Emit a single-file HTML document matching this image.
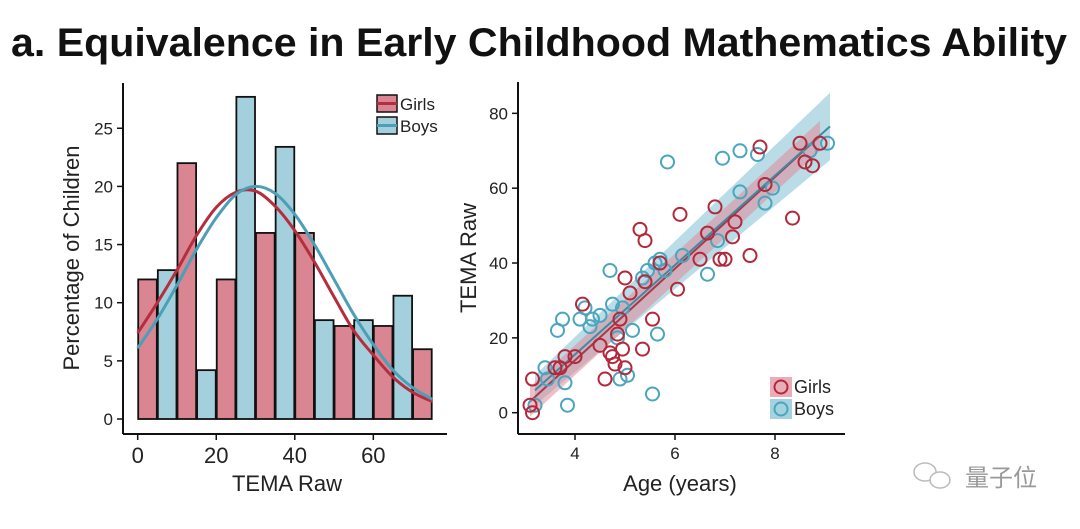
<!DOCTYPE html>
<html><head><meta charset="utf-8"><style>
body{margin:0;background:#fff;width:1080px;height:524px;overflow:hidden;font-family:"Liberation Sans",Arial,sans-serif}
</style></head><body>
<svg width="1080" height="524" xmlns="http://www.w3.org/2000/svg" font-family="Liberation Sans, Arial, sans-serif">
<text x="539" y="56" text-anchor="middle" font-size="40" font-weight="bold" fill="#111" textLength="1056" lengthAdjust="spacingAndGlyphs">a. Equivalence in Early Childhood Mathematics Ability</text>
<g id="hist"></g>
<g id="scat"></g>
<g>
<ellipse cx="925" cy="472" rx="11" ry="9" fill="none" stroke="#bbb" stroke-width="1.5"/>
<ellipse cx="940" cy="480" rx="10" ry="8" fill="#fff" stroke="#bbb" stroke-width="1.5"/>
<text x="965" y="486" font-size="24" fill="#999" font-family="Liberation Sans, Noto Sans CJK SC, sans-serif">量子位</text>
</g>
</svg>
<script>
const NS='http://www.w3.org/2000/svg';
// Histogram data
const binStarts=[0,5,10,15,20,25,30,35,40,45,50,55,60,65,70];
const binGroup=['g','b','g','b','g','b','g','b','g','b','g','b','g','b','g'];
const binValues=[12,12.8,22,4.2,12,27.7,16,23.4,16,8.5,8,8.5,8,10.6,6];
const curveX=[0,5,10,15,20,25,30,35,40,45,50,55,60,65,70,75];
const girlsCurve=[7.4,10,12.8,15.8,18.2,19.5,19.6,18.3,16.2,13.5,10.5,7.6,5.5,3.6,2.3,1.5];
const boysCurve=[6.1,8.6,11.5,14.6,17.3,19.3,20,19.4,17.6,15,12,9,6.4,4.2,2.7,1.7];
const histYTicks=[0,5,10,15,20,25];
const histXTicks=[0,20,40,60];
// Scatter data
const girlsAge=[3.1,3.15,3.15,3.6,3.7,3.8,4.0,4.15,4.5,4.6,4.7,4.75,4.8,4.85,4.9,4.95,5.0,5.0,5.1,5.3,5.35,5.4,5.4,5.55,5.7,6.05,6.1,6.5,6.65,6.8,6.9,7.0,7.15,7.2,7.5,7.7,7.8,8.35,8.5,8.6,8.75,8.9];
const girlsScore=[2,0,9,12,12,15,15,29,18,9,16,15,13,21,25,17,36,12,32,49,17,46,35,25,40,33,53,41,48,55,41,41,47,51,42,71,61,52,72,67,66,72];
const boysAge=[3.2,3.4,3.45,3.65,3.75,3.8,3.85,4.1,4.2,4.3,4.35,4.5,4.7,4.75,4.85,4.9,4.95,5.05,5.15,5.35,5.45,5.55,5.6,5.65,5.7,5.8,5.85,6.15,6.65,6.85,6.95,7.3,7.3,7.65,7.8,7.95,8.7,9.05];
const boysScore=[2,12,9,22,25,8,2,25,28,23,25,26,38,29,20,9,28,10,22,36,38,5,40,21,41,38,67,42,37,46,68,70,59,69,56,60,70,72];
const girlsFitAge=[3.1,8.9], girlsFit=[3,74], girlsBand=[4,4];
const boysFitAge=[3.2,9.1], boysFit=[6,76.5], boysBand=[4,9];
const scatYTicks=[0,20,40,60,80];
const scatXTicks=[4,6,8];

function el(tag,attrs,parent,name){const e=document.createElementNS(NS,tag);for(const k in attrs)e.setAttribute(k,attrs[k]);


parent.appendChild(e);return e;}
function smooth(pts){let d='M'+pts[0][0]+','+pts[0][1];for(let i=0;i<pts.length-1;i++){const p0=pts[Math.max(0,i-1)],p1=pts[i],p2=pts[i+1],p3=pts[Math.min(pts.length-1,i+2)];
d+=' C'+(p1[0]+(p2[0]-p0[0])/6)+','+(p1[1]+(p2[1]-p0[1])/6)+' '+(p2[0]-(p3[0]-p1[0])/6)+','+(p2[1]-(p3[1]-p1[1])/6)+' '+p2[0]+','+p2[1];}return d;}

// Histogram
const H=document.getElementById('hist');
const hx=v=>137.7+v*3.927, hy=v=>419-v*11.63;
binStarts.forEach((s,i)=>{const g=binGroup[i]==='g';
el('rect',{x:hx(s)+0.5,y:hy(binValues[i]),width:hx(s+5)-hx(s)-1,height:hy(0)-hy(binValues[i]),fill:g?'#d98592':'#a4d0de',stroke:'#111','stroke-width':1.8},H,g?'girls-bar':'boys-bar');});
el('path',{d:smooth(curveX.map((x,i)=>[hx(x),hy(girlsCurve[i])])),fill:'none',stroke:'#b52e3e','stroke-width':3},H,'girls-density-curve');
el('path',{d:smooth(curveX.map((x,i)=>[hx(x),hy(boysCurve[i])])),fill:'none',stroke:'#4b9fb6','stroke-width':3},H,'boys-density-curve');
el('line',{x1:123,y1:83,x2:123,y2:434,stroke:'#111','stroke-width':2},H,'y-axis');
el('line',{x1:123,y1:434,x2:447,y2:434,stroke:'#111','stroke-width':2},H,'x-axis');
histYTicks.forEach(t=>{el('line',{x1:117,x2:123,y1:hy(t),y2:hy(t),stroke:'#111','stroke-width':1.5},H,'y-tick');
const tx=el('text',{x:113,y:hy(t)+6,'text-anchor':'end','font-size':17,fill:'#222'},H,'y-tick-label');tx.textContent=t;});
histXTicks.forEach(t=>{el('line',{x1:hx(t),x2:hx(t),y1:434,y2:440,stroke:'#111','stroke-width':1.5},H,'x-tick');
const tx=el('text',{x:hx(t),y:463,'text-anchor':'middle','font-size':22,fill:'#222'},H,'x-tick-label');tx.textContent=t;});
let t=el('text',{x:287,y:491,'text-anchor':'middle','font-size':22,fill:'#222'},H,'x-axis-title');t.textContent='TEMA Raw';
t=el('text',{x:79,y:258,'text-anchor':'middle','font-size':22,fill:'#222',transform:'rotate(-90 79 258)'},H,'y-axis-title');t.textContent='Percentage of Children';
// legend
el('rect',{x:377,y:95,width:20,height:17,fill:'#d98592',stroke:'#111','stroke-width':1.5},H,'legend-girls-swatch');
el('line',{x1:377,x2:397,y1:103.5,y2:103.5,stroke:'#b52e3e','stroke-width':3},H,'legend-girls-line');
el('rect',{x:377,y:117,width:20,height:17,fill:'#a4d0de',stroke:'#111','stroke-width':1.5},H,'legend-boys-swatch');
el('line',{x1:377,x2:397,y1:125.5,y2:125.5,stroke:'#4b9fb6','stroke-width':3},H,'legend-boys-line');
t=el('text',{x:400,y:110,'font-size':17,fill:'#222'},H,'legend-girls-label');t.textContent='Girls';
t=el('text',{x:400,y:132,'font-size':17,fill:'#222'},H,'legend-boys-label');t.textContent='Boys';

// Scatter
const S=document.getElementById('scat');
const sx=v=>575+(v-4)*50, sy=v=>412.7-v*3.742;
function band(a,f,b,col,name){const p=[[sx(a[0]),sy(f[0]+b[0])],[sx(a[1]),sy(f[1]+b[1])],[sx(a[1]),sy(f[1]-b[1])],[sx(a[0]),sy(f[0]-b[0])]];
el('polygon',{points:p.map(q=>q.join(',')).join(' '),fill:col,opacity:0.55},S,name);}
band(boysFitAge,boysFit,boysBand,'#7fbfd2','boys-confidence-band');
band(girlsFitAge,girlsFit,girlsBand,'#e08a98','girls-confidence-band');
el('line',{x1:sx(girlsFitAge[0]),y1:sy(girlsFit[0]),x2:sx(girlsFitAge[1]),y2:sy(girlsFit[1]),stroke:'#a8394a','stroke-width':2},S,'girls-fit-line');
el('line',{x1:sx(boysFitAge[0]),y1:sy(boysFit[0]),x2:sx(boysFitAge[1]),y2:sy(boysFit[1]),stroke:'#3f8aa3','stroke-width':2},S,'boys-fit-line');
boysAge.forEach((a,i)=>el('circle',{cx:sx(a),cy:sy(boysScore[i]),r:6.5,fill:'none',stroke:'#4aa5bf','stroke-width':2},S,'boys-point'));
girlsAge.forEach((a,i)=>el('circle',{cx:sx(a),cy:sy(girlsScore[i]),r:6.5,fill:'none',stroke:'#b3283b','stroke-width':2},S,'girls-point'));
el('line',{x1:518,y1:82,x2:518,y2:434,stroke:'#111','stroke-width':2},S,'y-axis');
el('line',{x1:518,y1:434,x2:845,y2:434,stroke:'#111','stroke-width':2},S,'x-axis');
scatYTicks.forEach(v=>{el('line',{x1:512,x2:518,y1:sy(v),y2:sy(v),stroke:'#111','stroke-width':1.5},S,'y-tick');
const tx=el('text',{x:508,y:sy(v)+6,'text-anchor':'end','font-size':17,fill:'#222'},S,'y-tick-label');tx.textContent=v;});
scatXTicks.forEach(v=>{el('line',{x1:sx(v),x2:sx(v),y1:434,y2:440,stroke:'#111','stroke-width':1.5},S,'x-tick');
const tx=el('text',{x:sx(v),y:459,'text-anchor':'middle','font-size':17,fill:'#222'},S,'x-tick-label');tx.textContent=v;});
t=el('text',{x:680,y:491,'text-anchor':'middle','font-size':22,fill:'#222'},S,'x-axis-title');t.textContent='Age (years)';
t=el('text',{x:476,y:258,'text-anchor':'middle','font-size':22,fill:'#222',transform:'rotate(-90 476 258)'},S,'y-axis-title');t.textContent='TEMA Raw';
el('rect',{x:770,y:377,width:22,height:20,fill:'#e08a98',opacity:0.7},S,'legend-girls-swatch');
el('circle',{cx:781,cy:387,r:6.5,fill:'none',stroke:'#b3283b','stroke-width':2},S,'legend-girls-marker');
el('rect',{x:770,y:399,width:22,height:20,fill:'#7fbfd2',opacity:0.7},S,'legend-boys-swatch');
el('circle',{cx:781,cy:409,r:6.5,fill:'none',stroke:'#4aa5bf','stroke-width':2},S,'legend-boys-marker');
t=el('text',{x:794,y:393,'font-size':18,fill:'#222'},S,'legend-girls-label');t.textContent='Girls';
t=el('text',{x:794,y:415,'font-size':18,fill:'#222'},S,'legend-boys-label');t.textContent='Boys';
</script>
</body></html>
